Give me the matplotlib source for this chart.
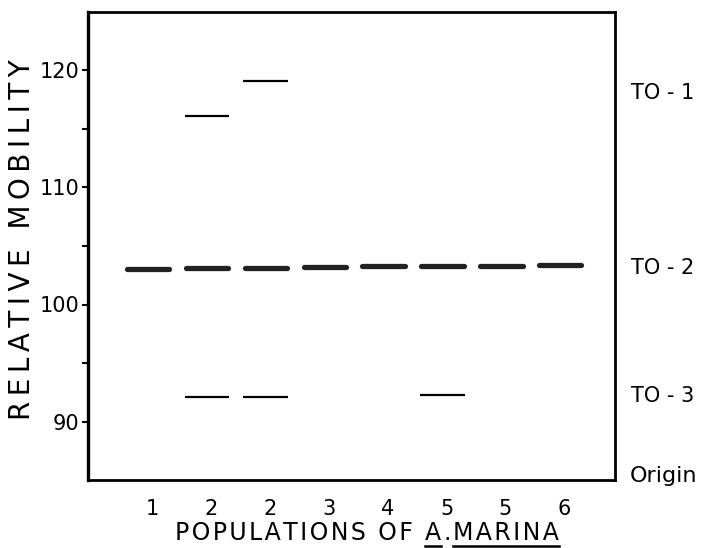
import numpy as np
import matplotlib
matplotlib.use("Agg")
import matplotlib.pyplot as plt
from matplotlib.transforms import blended_transform_factory

# ---- data ----
lanes = [1, 2, 3, 4, 5, 6, 7, 8]
lane_labels = ['1', '2', '2', '3', '4', '5', '5', '6']
to1 = [np.nan, 116.1, 119.1, np.nan, np.nan, np.nan, np.nan, np.nan]
to2 = [103.05, 103.1, 103.15, 103.2, 103.25, 103.3, 103.3, 103.35]
to3 = [np.nan, 92.1, 92.1, np.nan, np.nan, 92.25, np.nan, np.nan]
band_names = ['TO-1', 'TO-2', 'TO-3', 'Origin']
band_label_y = [118.1, 103.1, 92.2, 85.3]
yticks = [90, 100, 110, 120]
yminor = [95, 105, 115]


def spaced(s, sp='\u2009'):
    return sp.join(list(s))


W, H = 705, 548
fig = plt.figure(figsize=(W / 100, H / 100), dpi=100)
ax = fig.add_axes([88 / W, 1 - 480 / H, (615 - 88) / W, (480 - 12) / H])
ax.set_xlim(-0.02, 8.93)
ax.set_ylim(85, 125)

half = 0.38
for x, a, b, c in zip(lanes, to1, to2, to3):
    if not np.isnan(a):
        ax.plot([x - half, x + half], [a, a], color='black', lw=1.6, solid_capstyle='butt')
    if not np.isnan(b):
        ax.plot([x - half + 0.02, x + half - 0.02], [b, b], color='#222222', lw=3.8, solid_capstyle='round')
    if not np.isnan(c):
        ax.plot([x - half, x + half], [c, c], color='black', lw=1.6, solid_capstyle='butt')

for s in ax.spines.values():
    s.set_linewidth(2.0)
ax.spines['left'].set_linewidth(2.4)

ax.set_xticks([l + 0.07 for l in lanes])
ax.set_xticklabels(lane_labels, fontsize=15)
ax.tick_params(axis='x', length=0, pad=14)
ax.set_yticks(yticks)
ax.set_yticklabels([str(t) for t in yticks], fontsize=15)
ax.set_yticks(yminor, minor=True)
ax.tick_params(axis='y', which='both', direction='out', length=4, width=1.5, pad=2)

tr = blended_transform_factory(ax.transAxes, ax.transData)
for name, yv in zip(band_names, band_label_y):
    if name.startswith('TO'):
        ax.text(1.03, yv, name.replace('-', ' - '), transform=tr, fontsize=15, va='center', ha='left')
    else:
        ax.text(1.028, yv, name, transform=tr, fontsize=16, va='center', ha='left')

fig.text(22 / W, 1 - 240 / H, spaced('RELATIVE MOBILITY'),
         rotation=90, fontsize=20, ha='center', va='center')

# x label built from pieces so parts can be underlined
fig.canvas.draw()
renderer = fig.canvas.get_renderer()
pieces = ['POPULATIONS OF ', 'A', '.', 'MARINA']
underline = [False, True, False, True]
fs = 17
HS = '\u200a'
ybase = 1 - 540 / H
x = 175 / W
for p, u in zip(pieces, underline):
    t = fig.text(x, ybase, spaced(p, HS) + (HS if p != 'MARINA' else ''), fontsize=fs,
                 ha='left', va='baseline')
    bb = t.get_window_extent(renderer)
    if u:
        t2 = fig.text(x, ybase, spaced(p, HS), fontsize=fs, ha='left', va='baseline', alpha=0)
        bb2 = t2.get_window_extent(renderer)
        fig.add_artist(plt.Line2D([bb2.x0 / W, bb2.x1 / W], [ybase - 6 / H, ybase - 6 / H],
                                  color='black', lw=1.8, transform=fig.transFigure))
    x += bb.width / W

fig.savefig('out.png', dpi=100)
